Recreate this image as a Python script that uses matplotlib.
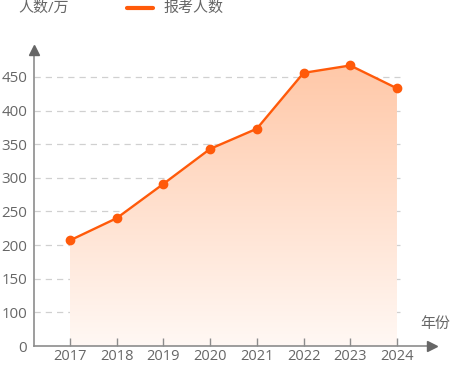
import matplotlib
matplotlib.use("Agg")
import matplotlib.pyplot as plt
import numpy as np
from matplotlib.colors import LinearSegmentedColormap

plt.rcParams['font.family'] = ['Open Sans', 'Noto Sans CJK SC', 'DejaVu Sans']

years = ['2017', '2018', '2019', '2020', '2021', '2022', '2023', '2024']
applicants = [207, 240, 291, 343, 373, 456, 467, 433]
ytick_values = [50, 100, 150, 200, 250, 300, 350, 400, 450]
ytick_labels = ['0', '100', '150', '200', '250', '300', '350', '400', '450']

line_color = '#ff5a0a'
text_color = '#666666'
axis_color = '#8c8c8c'

fig = plt.figure(figsize=(4.5, 3.65), dpi=100)
ax = fig.add_axes([34/450, 1 - 346/365, (432 - 34)/450, (346 - 50)/365])

x = np.arange(len(years))
ax.set_xlim(-0.77, 7.75)
ax.set_ylim(50, 490)

# gradient fill
ymax = max(applicants)
cmap = LinearSegmentedColormap.from_list('g', ['#fff8f4', '#ffc8a8'])
grad = np.linspace(0, 1, 256).reshape(-1, 1)
im = ax.imshow(grad, cmap=cmap, aspect='auto', origin='lower',
               extent=(x[0], x[-1], 50, ymax), zorder=1)
poly = ax.fill_between(x, applicants, 50, color='none', lw=0)
path = poly.get_paths()[0]
im.set_clip_path(path, transform=ax.transData)

# grid
for yv in ytick_values[1:]:
    ax.plot([-0.77, 7.06], [yv, yv], color='#d0d0d0', lw=0.9, ls=(0, (5, 4)), zorder=0.5)

ax.plot(x, applicants, color=line_color, lw=1.7, marker='o', ms=6, zorder=3, clip_on=False)

# spines
for s in ['top', 'right']:
    ax.spines[s].set_visible(False)
for s in ['left', 'bottom']:
    ax.spines[s].set_color(axis_color)
    ax.spines[s].set_linewidth(1.2)

ax.set_xticks(x)
ax.set_xticklabels(years)
ax.set_yticks(ytick_values)
ax.set_yticklabels(ytick_labels)
ax.tick_params(axis='x', length=6, width=1, color=axis_color, labelsize=10.5,
               labelcolor=text_color, pad=2.5, direction='in')
ax.tick_params(axis='y', length=0, labelsize=10.8, labelcolor=text_color, pad=5)

# arrows
ax.plot(0, 1, marker='^', ms=7, color='#666666', transform=ax.transAxes, clip_on=False, zorder=5)
ax.plot(1, 0, marker='>', ms=7, color='#666666', transform=ax.transAxes, clip_on=False, zorder=5)

# labels
fig.text(18/450, 1 - 8/365, '人数/万', fontsize=10.8, color=text_color, va='center', ha='left')
fig.text(420/450, 1 - 324/365, '年份', fontsize=10.8, color=text_color, va='center', ha='left')

# legend
fig.lines.append(plt.Line2D([127/450, 153/450], [1 - 8/365, 1 - 8/365], color=line_color,
                            lw=3, solid_capstyle='round', transform=fig.transFigure))
fig.text(163/450, 1 - 8/365, '报考人数', fontsize=10.8, color=text_color, va='center', ha='left')

fig.savefig('out.png', dpi=100)
